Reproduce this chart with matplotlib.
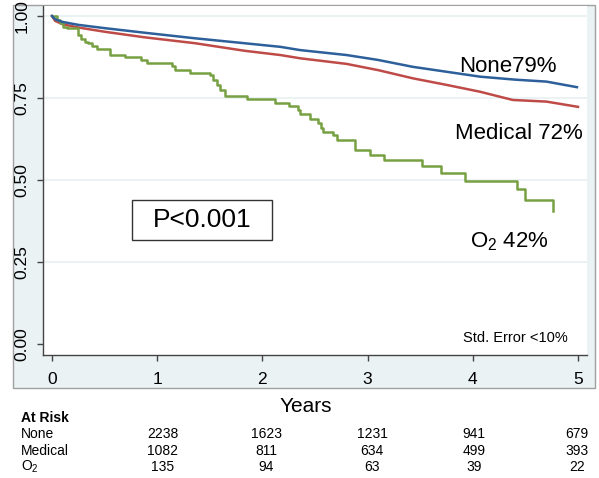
import matplotlib
matplotlib.use("Agg")
import matplotlib.pyplot as plt
from matplotlib.patches import Rectangle

plt.rcParams['font.family'] = ['Liberation Sans', 'DejaVu Sans']
plt.rcParams['mathtext.fontset'] = 'custom'
plt.rcParams['mathtext.rm'] = 'Liberation Sans'

# ---- data ----
none_t = [0, 0.03, 0.1, 0.25, 0.5, 0.88, 1.36, 1.83, 2.17, 2.36, 2.8, 3.1, 3.43, 3.75, 4.07, 4.4, 4.7, 4.99]
none_s = [1.0, 0.99, 0.982, 0.973, 0.963, 0.949, 0.932, 0.917, 0.906, 0.896, 0.881, 0.866, 0.845, 0.83, 0.815, 0.806, 0.80, 0.783]

med_t = [0, 0.03, 0.1, 0.25, 0.5, 0.88, 1.36, 1.83, 2.17, 2.36, 2.8, 3.1, 3.43, 3.75, 4.07, 4.38, 4.7, 5.0]
med_s = [1.0, 0.985, 0.975, 0.965, 0.952, 0.935, 0.917, 0.894, 0.881, 0.871, 0.854, 0.835, 0.81, 0.79, 0.769, 0.744, 0.739, 0.723]

o2_t = [0, 0.045, 0.076, 0.107, 0.14, 0.25, 0.28, 0.31, 0.345, 0.377, 0.425, 0.55, 0.69, 0.85, 0.90,
        1.14, 1.17, 1.31, 1.50, 1.53, 1.565, 1.60, 1.645, 1.85, 2.12, 2.25, 2.34, 2.36, 2.45, 2.53,
        2.56, 2.58, 2.67, 2.71, 2.88, 3.02, 3.16, 3.52, 3.70, 3.93, 4.42, 4.50, 4.76]
o2_s = [1.0, 0.988, 0.978, 0.967, 0.962, 0.942, 0.929, 0.922, 0.917, 0.909, 0.898, 0.881, 0.876, 0.866, 0.858,
        0.848, 0.835, 0.827, 0.82, 0.805, 0.79, 0.774, 0.756, 0.747, 0.736, 0.726, 0.713, 0.70, 0.686, 0.675,
        0.66, 0.647, 0.637, 0.622, 0.591, 0.576, 0.561, 0.543, 0.52, 0.497, 0.472, 0.439, 0.405]

x_ticks = [0, 1, 2, 3, 4, 5]
y_ticks = [0.0, 0.25, 0.5, 0.75, 1.0]
y_ticklabels = ["0.00", "0.25", "0.50", "0.75", "1.00"]

risk_groups = ["None", "Medical", "O$_\\mathregular{2}$"]
risk_none = [2238, 1623, 1231, 941, 679]
risk_medical = [1082, 811, 634, 499, 393]
risk_o2 = [135, 94, 63, 39, 22]

curve_labels = ["None79%", "Medical 72%", "O$_\\mathregular{2}$ 42%"]

# ---- figure ----
W, H = 599, 478
fig = plt.figure(figsize=(W / 100, H / 100), dpi=100)
fig.patch.set_facecolor('white')

def fx(px):
    return px / W

def fy(py):
    return 1 - py / H

# outer graph region
fig.patches.append(Rectangle((fx(13), fy(388)), fx(595) - fx(13), fy(5) - fy(388),
                             transform=fig.transFigure, facecolor='#eaf2f3',
                             edgecolor='#a0a0a0', lw=1.0, zorder=0))

ax = fig.add_axes([fx(43), fy(355), fx(587) - fx(43), fy(6) - fy(355)])
ax.set_facecolor('white')
ax.set_zorder(1)

x0px, x5px = 52, 578
y1px, y0px = 16, 344
ax.set_xlim((43 - x0px) / ((x5px - x0px) / 5), (587 - x0px) / ((x5px - x0px) / 5))
ax.set_ylim(-(355 - y0px) / (y0px - y1px), 1 + (y1px - 6) / (y0px - y1px))

for yv in [0.25, 0.5, 0.75, 1.0]:
    ax.axhline(yv, color='#e6f0f2', lw=1.2, zorder=0)

ax.plot(none_t, none_s, color='#2d5f9b', lw=1.8, zorder=3)
ax.plot(med_t, med_s, color='#be4b48', lw=1.8, zorder=2)
ax.step(o2_t, o2_s, where='post', color='#77a043', lw=1.8, zorder=2)

for s in ['top', 'right']:
    ax.spines[s].set_visible(False)
for s in ['left', 'bottom']:
    ax.spines[s].set_color('#444444')
    ax.spines[s].set_linewidth(1.0)

ax.set_xticks(x_ticks)
ax.set_xticklabels([str(v) for v in x_ticks], fontsize=12.5)
ax.set_yticks(y_ticks)
ax.set_yticklabels(y_ticklabels, fontsize=12.5, rotation=90, va='center')
ax.tick_params(axis='x', length=4, width=1, color='#444444', pad=8)
ax.tick_params(axis='y', length=4.5, width=1, color='#444444', pad=5)

# annotations
ax.text(4.33, 0.845, curve_labels[0], fontsize=16, ha='center', va='center', zorder=4)
ax.text(4.44, 0.643, curve_labels[1], fontsize=16, ha='center', va='center', zorder=4)
ax.text(4.35, 0.311, curve_labels[2], fontsize=16, ha='center', va='center', zorder=4)
ax.text(4.40, 0.018, "Std. Error <10%", fontsize=10.5, ha='center', va='center', zorder=4)
ax.text(1.43, 0.378, "P<0.001", fontsize=19, ha='center', va='center', zorder=5)
fig.patches.append(Rectangle((fx(132), fy(240)), fx(272) - fx(132), fy(200) - fy(240),
                             transform=fig.transFigure, facecolor='none',
                             edgecolor='#333333', lw=1.0, zorder=5))

# x-axis title
fig.text(fx(306), fy(407), "Years", fontsize=15, ha='center', va='center')

# at-risk table
fig.text(fx(21), fy(418), "At Risk", fontsize=10, fontweight='bold', ha='left', va='center')
row_y = [434, 451, 467]
col_x = [163, 266, 372, 474, 577]
for name, vals, ry in zip(risk_groups, [risk_none, risk_medical, risk_o2], row_y):
    fig.text(fx(21), fy(ry), name, fontsize=10, ha='left', va='center')
    for v, cx in zip(vals, col_x):
        fig.text(fx(cx), fy(ry), str(v), fontsize=10, ha='center', va='center')

fig.savefig("out.png", dpi=100)
